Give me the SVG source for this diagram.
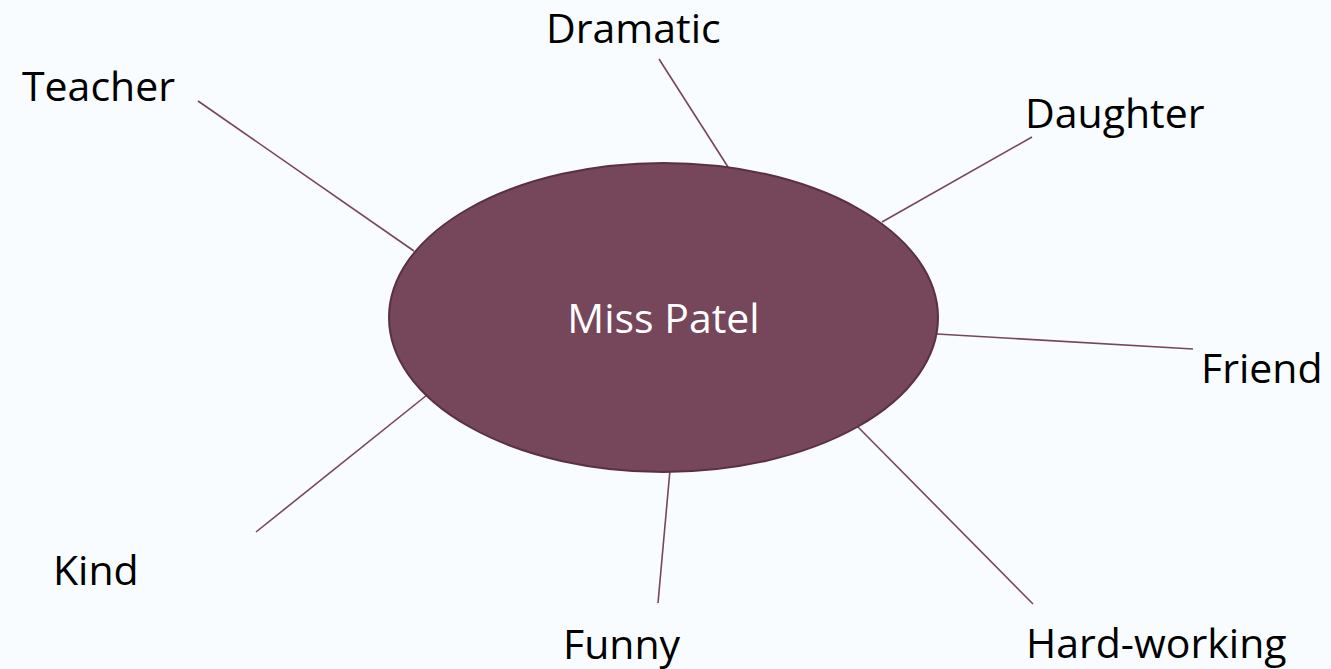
<svg xmlns="http://www.w3.org/2000/svg" width="1331" height="669" viewBox="0 0 1331 669">
<style>
.lbl{font-family:"Open Sans","Noto Sans","Liberation Sans",sans-serif;font-size:41px;fill:#000}
.center{font-family:"Open Sans","Noto Sans","Liberation Sans",sans-serif;font-size:41px;fill:#fff;text-anchor:middle}
.conn line{stroke:#76465A;stroke-width:1.6;fill:none}
</style>
<rect x="0" y="0" width="1331" height="669" fill="#F8FCFE"/>
<g id="connectors" class="conn">
<line x1="198" y1="101" x2="414" y2="251"/>
<line x1="659" y1="59" x2="728" y2="167"/>
<line x1="1032" y1="137" x2="882" y2="222"/>
<line x1="937" y1="334" x2="1193" y2="349"/>
<line x1="857" y1="426" x2="1033" y2="604"/>
<line x1="670" y1="470" x2="658" y2="603"/>
<line x1="427" y1="395" x2="256" y2="532"/>
</g>
<g id="node-center">
<ellipse cx="663.5" cy="317.5" rx="274.5" ry="154.5" fill="#76465A" stroke="#5A3044" stroke-width="2"/>
<text class="center" x="663.5" y="333">Miss Patel</text>
</g>
<g id="node-teacher"><text class="lbl" x="22" y="101">Teacher</text></g>
<g id="node-dramatic"><text class="lbl" x="546" y="43">Dramatic</text></g>
<g id="node-daughter"><text class="lbl" x="1025" y="128">Daughter</text></g>
<g id="node-friend"><text class="lbl" x="1201" y="383">Friend</text></g>
<g id="node-kind"><text class="lbl" x="53" y="585">Kind</text></g>
<g id="node-funny"><text class="lbl" x="563" y="659">Funny</text></g>
<g id="node-hardworking"><text class="lbl" x="1026" y="658">Hard-working</text></g>
</svg>
